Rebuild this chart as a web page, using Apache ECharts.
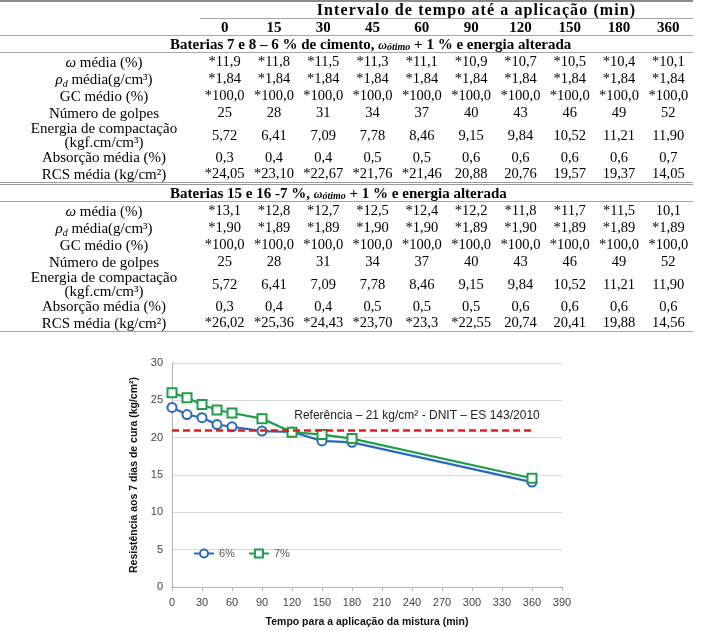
<!DOCTYPE html>
<html><head><meta charset="utf-8">
<script src="https://cdn.jsdelivr.net/npm/echarts@6/dist/echarts.min.js"></script>
<style>
html,body{margin:0;padding:0;background:#fff;width:701px;height:631px;overflow:hidden}
#chart{position:absolute;left:0;top:0;width:701px;height:631px}
#tbl{position:absolute;left:0;top:0;width:701px;height:340px;z-index:2;font-family:"Liberation Serif","Times New Roman",serif;font-size:15px;color:#000}
.c{position:absolute;text-align:center;white-space:nowrap;display:flex;align-items:center;justify-content:center}
.v{font-size:14.5px}
.ln{position:absolute;background:#a6a6a6;height:1px}
.sub{font-size:10px;position:relative;top:3px;line-height:0}
</style>
</head><body>
<div id="chart"></div>
<div id="tbl"></div>
<script>
// ---------- data ----------
const times = [0, 15, 30, 45, 60, 90, 120, 150, 180, 360];
const headerTitle = 'Intervalo de tempo até a aplicação (min)';
const section1 = 'Baterias 7 e 8 – 6 % de cimento, ';
const section2 = 'Baterias 15 e 16 -7 %, ';
const sectionTail = ' + 1 % e energia alterada';
const rowLabels = [
  '<i>ω</i> média (%)',
  '<i>ρ<span class="sub">d</span></i> média(g/cm³)',
  'GC médio (%)',
  'Número de golpes',
  'Energia de compactação<br>(kgf.cm/cm³)',
  'Absorção média (%)',
  'RCS média (kg/cm²)'
];
const b1Omega = ['*11,9','*11,8','*11,5','*11,3','*11,1','*10,9','*10,7','*10,5','*10,4','*10,1'];
const b1Rho = ['*1,84','*1,84','*1,84','*1,84','*1,84','*1,84','*1,84','*1,84','*1,84','*1,84'];
const b1GC = ['*100,0','*100,0','*100,0','*100,0','*100,0','*100,0','*100,0','*100,0','*100,0','*100,0'];
const b1Golpes = ['25','28','31','34','37','40','43','46','49','52'];
const b1Energia = ['5,72','6,41','7,09','7,78','8,46','9,15','9,84','10,52','11,21','11,90'];
const b1Absorcao = ['0,3','0,4','0,4','0,5','0,5','0,6','0,6','0,6','0,6','0,7'];
const b1RCS = ['*24,05','*23,10','*22,67','*21,76','*21,46','20,88','20,76','19,57','19,37','14,05'];
const b2Omega = ['*13,1','*12,8','*12,7','*12,5','*12,4','*12,2','*11,8','*11,7','*11,5','10,1'];
const b2Rho = ['*1,90','*1,89','*1,89','*1,90','*1,90','*1,89','*1,90','*1,89','*1,89','*1,89'];
const b2GC = ['*100,0','*100,0','*100,0','*100,0','*100,0','*100,0','*100,0','*100,0','*100,0','*100,0'];
const b2Golpes = ['25','28','31','34','37','40','43','46','49','52'];
const b2Energia = ['5,72','6,41','7,09','7,78','8,46','9,15','9,84','10,52','11,21','11,90'];
const b2Absorcao = ['0,3','0,4','0,4','0,5','0,5','0,5','0,6','0,6','0,6','0,6'];
const b2RCS = ['*26,02','*25,36','*24,43','*23,70','*23,3','*22,55','20,74','20,41','19,88','14,56'];

const rcs6 = [24.05, 23.10, 22.67, 21.76, 21.46, 20.88, 20.76, 19.57, 19.37, 14.05];
const rcs7 = [26.02, 25.36, 24.43, 23.70, 23.3, 22.55, 20.74, 20.41, 19.88, 14.56];
const refValue = 21;
const refEnd = 360;
const refText = 'Referência – 21 kg/cm² - DNIT – ES 143/2010';
const xTicks = {min: 0, max: 390, interval: 30};
const yTicks = {min: 0, max: 30, interval: 5};

// ---------- table (layout) ----------
const TW = 693, LW = 200, CW = (TW - LW) / times.length;
const omegaOt = '<i style="font-size:12px">ω</i><i style="font-size:10px;position:relative;top:1px">ótimo</i>';
let html = '';
let y = 0;
function line(yy, x0, x1, hgt, col){
  html += '<div class="ln" style="top:'+yy+'px;left:'+x0+'px;width:'+(x1-x0)+'px;height:'+(hgt||1)+'px;background:'+(col||'#a6a6a6')+'"></div>';
}
function cell(x, w, top, hgt, content, extra, cls){
  html += '<div class="c '+(cls||'')+'" style="left:'+x+'px;width:'+w+'px;top:'+top+'px;height:'+hgt+'px;'+(extra||'')+'"><span>'+content+'</span></div>';
}
line(0, 0, TW, 2, '#8c8c8c'); y = 2;
// header 1
cell(LW + 60, TW - LW - 60, y, 16, headerTitle, 'font-weight:bold;letter-spacing:1.1px;font-size:16px');
y += 16; line(y, LW, TW); y += 1;
// header 2
times.forEach((t,k)=>cell(LW + k*CW, CW, y, 16, String(t), 'font-weight:bold'));
y += 16; line(y, 0, TW); y += 1;
function block(title, rows, last){
  cell(170, 520, y, 16, title + omegaOt + sectionTail, 'font-weight:bold;justify-content:flex-start');
  y += 16; line(y, 0, TW); y += 1;
  rows.forEach((r,i)=>{
    const hgt = (i===4) ? 28 : (i===5 ? 16 : 17);
    cell(4, LW, y, hgt, rowLabels[i], 'line-height:14px');
    r.forEach((v,k)=>cell(LW + k*CW, CW, y, hgt, v, '', 'v'));
    y += hgt;
  });
  if(last){ line(y, 0, TW); y += 1; }
  else { line(y, 0, TW, 1, '#9a9a9a'); line(y+2, 0, TW, 1, '#9a9a9a'); y += 3; }
}
block(section1, [b1Omega,b1Rho,b1GC,b1Golpes,b1Energia,b1Absorcao,b1RCS], false);
block(section2, [b2Omega,b2Rho,b2GC,b2Golpes,b2Energia,b2Absorcao,b2RCS], true);
document.getElementById('tbl').innerHTML = html;

// ---------- chart ----------
const chart = echarts.init(document.getElementById('chart'));
const font = '"Liberation Sans", Arial, sans-serif';
const blue = '#2a68c0', green = '#1f9d4a';
chart.setOption({
  backgroundColor: '#fff',
  animation: false,
  grid: {left: 172, right: 139, top: 363, bottom: 44},
  legend: {
    left: 188, top: 543, itemWidth: 20, itemHeight: 10, itemGap: 13,
    textStyle: {color: '#555', fontSize: 11, fontFamily: font},
    data: ['6%', '7%']
  },
  xAxis: {
    type: 'value', min: xTicks.min, max: xTicks.max, interval: xTicks.interval,
    axisLine: {show: true, lineStyle: {color: '#b3b3b3'}},
    axisTick: {show: true, length: 4, lineStyle: {color: '#b3b3b3'}},
    axisLabel: {color: '#444', fontSize: 11, fontFamily: font, margin: 10},
    splitLine: {show: false},
    name: 'Tempo para a aplicação da mistura (min)', nameLocation: 'middle', nameGap: 30,
    nameTextStyle: {fontWeight: 'bold', fontSize: 10.5, color: '#111', fontFamily: font}
  },
  yAxis: {
    type: 'value', min: yTicks.min, max: yTicks.max, interval: yTicks.interval,
    axisLine: {show: true, lineStyle: {color: '#b3b3b3'}},
    axisTick: {show: false},
    axisLabel: {color: '#444', fontSize: 11, fontFamily: font, margin: 9},
    splitLine: {lineStyle: {color: '#d9d9d9'}},
    name: 'Resistência aos 7 dias de cura (kg/cm²)', nameLocation: 'middle', nameGap: 25,
    nameTextStyle: {fontWeight: 'bold', fontSize: 10.5, color: '#111', fontFamily: font}
  },
  series: [
    {
      name: '6%', type: 'line', color: blue,
      data: times.map((t,i)=>[t, rcs6[i]]),
      symbol: 'circle', symbolSize: 9,
      itemStyle: {color: '#fff', borderColor: blue, borderWidth: 2},
      lineStyle: {color: blue, width: 2.2}, z: 2
    },
    {
      name: '7%', type: 'line', color: green,
      data: times.map((t,i)=>[t, rcs7[i]]),
      symbol: 'rect', symbolSize: 9,
      itemStyle: {color: '#fff', borderColor: green, borderWidth: 2},
      lineStyle: {color: green, width: 2.2}, z: 3,
      markLine: {
        silent: true, symbol: ['none','none'], label: {show: false},
        lineStyle: {color: '#e51c1c', type: [7, 4], width: 2.5},
        data: [[{coord: [0, refValue]}, {coord: [refEnd, refValue]}]]
      }
    }
  ]
});
const p = chart.convertToPixel({gridIndex: 0}, [245, 23]);
chart.setOption({
  graphic: [{
    type: 'text', x: p[0], y: p[1],
    style: {text: refText, fill: '#222', font: '12px ' + font, align: 'center', verticalAlign: 'middle'}
  }]
});
</script>
</body></html>
